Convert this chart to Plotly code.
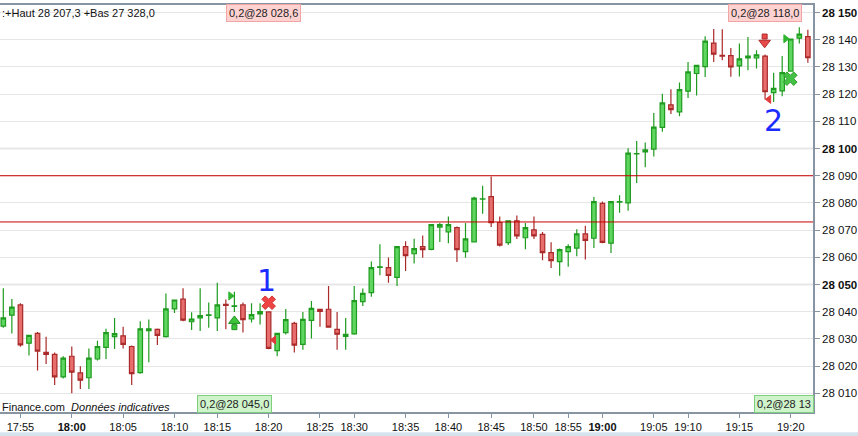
import plotly.graph_objects as go

# ---------------- data ----------------
candle_idx = list(range(95))
opens = [28034.7, 28038.7, 28042.5, 28028.4, 28032.0, 28025.0, 28024.3, 28016.0, 28023.6, 28017.5,
         28015.7, 28022.6, 28026.9, 28030.8, 28031.1, 28027.2, 28017.6, 28033.0, 28033.5, 28030.8,
         28041.0, 28044.6, 28036.3, 28037.7, 28038.6, 28037.7, 28042.7, 28041.9, 28042.5, 28037.3,
         28039.2, 28039.9, 28025.7, 28032.3, 28035.7, 28028.0, 28036.8, 28040.9, 28040.9, 28033.5,
         28030.9, 28031.8, 28043.7, 28047.0, 28056.3, 28056.2, 28052.6, 28063.9, 28061.3, 28063.9,
         28062.9, 28071.1, 28069.3, 28070.9, 28062.1, 28065.7, 28081.4, 28082.3, 28072.8, 28065.4,
         28073.4, 28067.2, 28070.1, 28068.4, 28061.7, 28058.4, 28062.1, 28063.4, 28068.6, 28067.0,
         28079.8, 28065.2, 28080.3, 28080.0, 28098.0, 28098.8, 28099.8, 28107.8, 28116.1, 28113.5,
         28121.1, 28127.6, 28130.1, 28138.8, 28134.3, 28134.2, 28130.4, 28133.3, 28133.3, 28134.0,
         28120.6, 28121.2, 28128.5, 28140.6, 28141.2]
highs = [28048.6, 28044.7, 28043.1, 28031.5, 28032.5, 28030.8, 28025.0, 28023.6, 28027.2, 28019.9,
         28026.5, 28029.3, 28033.7, 28037.7, 28034.5, 28027.6, 28036.5, 28037.1, 28033.8, 28046.7,
         28044.3, 28048.6, 28039.8, 28048.6, 28043.4, 28050.6, 28044.5, 28047.3, 28043.4, 28043.1,
         28043.1, 28040.1, 28032.0, 28041.0, 28036.3, 28039.9, 28043.9, 28041.0, 28049.4, 28039.9,
         28037.7, 28049.4, 28048.5, 28058.5, 28064.8, 28059.9, 28063.9, 28065.9, 28066.8, 28068.0,
         28072.0, 28072.6, 28075.0, 28071.3, 28072.6, 28082.3, 28086.3, 28089.7, 28075.0, 28073.4,
         28075.4, 28072.6, 28075.0, 28069.3, 28065.5, 28063.2, 28064.8, 28070.3, 28071.6, 28082.2,
         28080.5, 28080.5, 28082.8, 28100.1, 28102.8, 28102.2, 28113.1, 28120.2, 28121.8, 28124.3,
         28131.8, 28130.6, 28141.3, 28144.0, 28143.9, 28137.0, 28138.6, 28141.0, 28136.2, 28134.6,
         28127.9, 28134.0, 28140.5, 28144.6, 28143.7]
lows = [28034.1, 28032.0, 28027.1, 28023.9, 28018.4, 28020.8, 28013.0, 28015.4, 28010.0, 28011.6,
        28011.6, 28022.0, 28022.6, 28026.3, 28026.5, 28013.0, 28017.2, 28021.4, 28027.7, 28030.5,
        28039.5, 28036.5, 28033.3, 28032.9, 28034.1, 28032.9, 28033.5, 28039.9, 28032.3, 28036.0,
        28035.3, 28026.2, 28023.6, 28031.6, 28025.0, 28026.0, 28030.1, 28034.5, 28034.3, 28026.0,
        28026.0, 28031.5, 28042.1, 28045.5, 28053.4, 28050.6, 28049.4, 28055.0, 28057.7, 28059.8,
        28062.6, 28065.6, 28065.2, 28058.3, 28059.8, 28065.7, 28076.0, 28071.1, 28064.0, 28064.5,
        28066.7, 28063.0, 28066.7, 28058.9, 28056.1, 28053.2, 28056.5, 28060.4, 28059.2, 28063.4,
        28065.2, 28061.6, 28076.4, 28077.1, 28087.3, 28093.1, 28097.1, 28106.2, 28112.7, 28111.9,
        28118.6, 28119.5, 28126.3, 28131.8, 28132.5, 28126.4, 28126.5, 28128.8, 28129.4, 28118.0,
        28117.1, 28119.2, 28128.5, 28138.6, 28131.6]
closes = [28037.7, 28041.7, 28027.8, 28031.3, 28025.5, 28024.3, 28016.0, 28022.9, 28017.8, 28014.8,
          28022.9, 28027.2, 28032.3, 28031.9, 28028.0, 28017.2, 28033.7, 28033.7, 28031.3, 28041.0,
          28044.3, 28036.9, 28037.3, 28038.6, 28038.8, 28042.5, 28042.3, 28042.1, 28037.1, 28038.9,
          28040.0, 28026.5, 28032.0, 28037.1, 28027.7, 28037.2, 28041.2, 28040.1, 28034.3, 28031.7,
          28031.7, 28044.1, 28046.7, 28056.2, 28056.5, 28053.3, 28063.9, 28060.6, 28063.2, 28062.8,
          28072.0, 28072.0, 28072.0, 28062.8, 28066.8, 28081.8, 28081.5, 28072.7, 28064.5, 28073.4,
          28067.9, 28070.9, 28067.9, 28061.7, 28058.8, 28062.8, 28063.9, 28068.6, 28066.2, 28080.5,
          28065.5, 28080.5, 28080.5, 28098.3, 28098.1, 28099.5, 28107.9, 28116.8, 28114.3, 28121.7,
          28128.2, 28130.6, 28139.5, 28134.7, 28134.0, 28130.0, 28133.0, 28134.0, 28134.5, 28120.9,
          28122.1, 28127.9, 28140.3, 28142.1, 28133.4]

time_tick_idx = [2, 8, 14, 20, 25, 31, 37, 41, 47, 52, 57, 62, 66, 70, 76, 80, 86, 92]
time_tick_labels = ["17:55", "<b>18:00</b>", "18:05", "18:10", "18:15", "18:20", "18:25", "18:30",
                    "18:35", "18:40", "18:45", "18:50", "18:55", "<b>19:00</b>", "19:05", "19:10",
                    "19:15", "19:20"]
price_ticks = [28010, 28020, 28030, 28040, 28050, 28060, 28070, 28080, 28090, 28100,
               28110, 28120, 28130, 28140, 28150]
price_labels = ["28 010", "28 020", "28 030", "28 040", "<b>28 050</b>", "28 060", "28 070",
                "28 080", "28 090", "<b>28 100</b>", "28 110", "28 120", "28 130", "28 140",
                "<b>28 150</b>"]
levels = [28090, 28073]
major_levels = [28050, 28100]

# signal markers (candle index, price)
red_x_pos = [(31, 28043.3)]
green_x_pos = [(91.95, 28125.7)]
red_tri_left = [(31.6, 28029.6), (89.45, 28118.1)]
green_tri_right = [(26.55, 28045.8), (91.4, 28140.4)]
green_arrow_head = [(27, 28036.6)]
green_arrow_shaft = [(27, 28034.3)]
red_arrow_head = [(88.95, 28138.9)]
red_arrow_shaft = [(88.95, 28141.2)]
hand_labels = [("1", 30.7, 28051.5), ("2", 90.0, 28110.5)]

header_text = ":+Haut 28 207,3 +Bas 27 328,0"
footer_text = "Finance.com  <i>Données indicatives</i>"
order_boxes_top = ["0,2@28 028,6", "0,2@28 118,0"]
order_boxes_bottom = ["0,2@28 045,0", "0,2@28 13"]

FONT = "Liberation Sans, Arial, sans-serif"
AXIS_COL = "#8794a1"

fig = go.Figure()
fig.add_trace(go.Candlestick(
    x=candle_idx, open=opens, high=highs, low=lows, close=closes,
    increasing=dict(line=dict(color="#1f9b1f", width=1.2), fillcolor="#5fd65f"),
    decreasing=dict(line=dict(color="#aa2a2a", width=1.2), fillcolor="#e86e6e"),
    whiskerwidth=0, hoverinfo="skip", showlegend=False,
))

def add_markers(pos, symbol, color, size, line_color=None, lw=1):
    fig.add_trace(go.Scatter(
        x=[p[0] for p in pos], y=[p[1] for p in pos], mode="markers",
        marker=dict(symbol=symbol, color=color, size=size,
                    line=dict(color=line_color or color, width=lw)),
        hoverinfo="skip", showlegend=False, cliponaxis=False))

add_markers(red_x_pos, "x", "#ee4444", 12, "#d03030")
add_markers(green_x_pos, "x", "#44c044", 12, "#2fa02f")
add_markers(red_tri_left, "triangle-left", "#e03a3a", 7)
add_markers(green_tri_right, "triangle-right", "#2fb52f", 7)
add_markers(green_arrow_shaft, "square", "#3cc43c", 5, "#1f8f1f")
add_markers(green_arrow_head, "triangle-up", "#3cc43c", 10, "#1f8f1f")
add_markers(red_arrow_shaft, "square", "#e84a4a", 5, "#b02a2a")
add_markers(red_arrow_head, "triangle-down", "#e84a4a", 10, "#b02a2a")

shapes = []
for lv in major_levels:
    shapes.append(dict(type="line", xref="paper", x0=0, x1=1, yref="y", y0=lv, y1=lv,
                       line=dict(color="#d2d2d2", width=1.5), layer="below"))
for lv in levels:
    shapes.append(dict(type="line", xref="paper", x0=0, x1=1, yref="y", y0=lv, y1=lv,
                       line=dict(color="#c40000", width=1), layer="above"))
# light blue band at very bottom of window
shapes.append(dict(type="rect", xref="paper", yref="paper", x0=-0.01, x1=1.06,
                   y0=-0.062, y1=-0.0495, fillcolor="#d5e3ef", line=dict(width=0)))

annotations = []
annotations.append(dict(text=header_text, xref="paper", yref="paper", x=0.0, y=0.981,
                        xanchor="left", yanchor="middle", showarrow=False,
                        font=dict(family=FONT, size=11, color="#111")))
annotations.append(dict(text=footer_text, xref="paper", yref="paper", x=0.0, y=0.012,
                        xanchor="left", yanchor="middle", showarrow=False,
                        font=dict(family=FONT, size=11, color="#111")))
for txt, xc in zip(order_boxes_top, [0.3247, 0.9405]):
    annotations.append(dict(text=txt, xref="paper", yref="paper", x=xc, y=0.980,
                            xanchor="center", yanchor="middle", showarrow=False,
                            bgcolor="#ffd2d2", bordercolor="#f0a4a4", borderwidth=1, borderpad=2,
                            font=dict(family=FONT, size=11, color="#222")))
annotations.append(dict(text=order_boxes_bottom[0], xref="paper", yref="paper", x=0.2885, y=0.0195,
                        xanchor="center", yanchor="middle", showarrow=False,
                        bgcolor="#cff3cb", bordercolor="#7dcf7d", borderwidth=1, borderpad=2,
                        font=dict(family=FONT, size=11, color="#222")))
annotations.append(dict(text=order_boxes_bottom[1], xref="paper", yref="paper", x=0.9275, y=0.0195,
                        xanchor="left", yanchor="middle", showarrow=False,
                        bgcolor="#cff3cb", bordercolor="#7dcf7d", borderwidth=1, borderpad=2,
                        font=dict(family=FONT, size=11, color="#222")))
for txt, hx, hy in hand_labels:
    annotations.append(dict(text=txt, x=hx, y=hy, xref="x", yref="y", showarrow=False,
                            font=dict(family="DejaVu Sans, sans-serif", size=30, color="#1a2cff")))

fig.update_layout(
    width=858, height=436,
    margin=dict(l=0, r=45, t=5, b=24),
    paper_bgcolor="white", plot_bgcolor="white",
    showlegend=False, boxgap=0.25,
    shapes=shapes, annotations=annotations,
    font=dict(family=FONT, size=11, color="#111"),
    xaxis=dict(type="linear", range=[-0.386, 94.6], rangeslider=dict(visible=False),
               tickmode="array", tickvals=time_tick_idx, ticktext=time_tick_labels,
               showgrid=False, zeroline=False, showline=True, linecolor=AXIS_COL, linewidth=1.5,
               mirror=True, ticks="outside", ticklen=4, tickcolor=AXIS_COL, automargin=False,
               tickfont=dict(family=FONT, size=11, color="#111")),
    yaxis=dict(side="right", range=[28003.1, 28152.8], tickmode="array",
               tickvals=price_ticks, ticktext=price_labels, automargin=False,
               showgrid=True, gridcolor="#e6e6e6", gridwidth=1, zeroline=False,
               showline=True, linecolor=AXIS_COL, linewidth=1.5, ticks="outside",
               ticklen=5, tickcolor=AXIS_COL,
               tickfont=dict(family=FONT, size=11.5, color="#111")),
)

fig.write_html("out.html", config={"displayModeBar": False},
               post_script="document.body.style.margin='0';document.body.style.overflow='hidden';")
